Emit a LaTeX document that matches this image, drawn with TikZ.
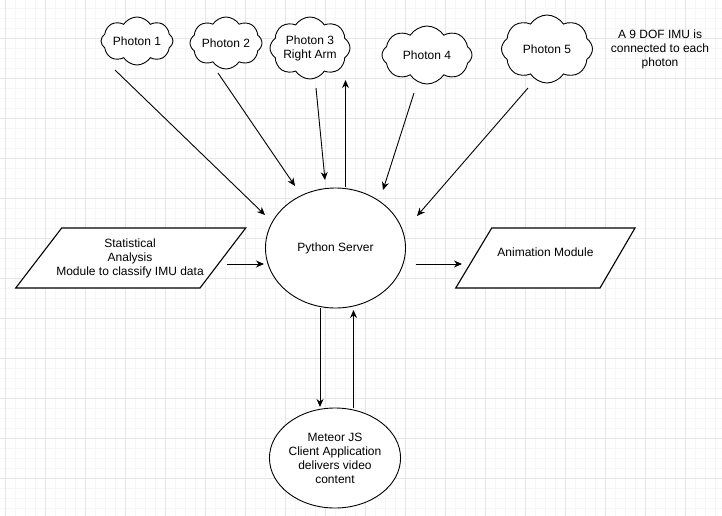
\documentclass[tikz,border=0pt]{standalone}
\usepackage{fontspec}
\setmainfont{Liberation Sans}
\usetikzlibrary{shapes.symbols,shapes.geometric,arrows.meta}
\definecolor{gridminor}{HTML}{F6F6F6}
\definecolor{gridmajor}{HTML}{E6E6E6}
\tikzset{
  txt/.style={font=\fontsize{12}{14}\selectfont, align=center, inner sep=0pt},
  photon/.style={cloud, cloud puffs=8, cloud puff arc=115, cloud ignores aspect, draw, line width=0.9pt, fill=white, inner sep=0pt, font=\fontsize{12}{14}\selectfont, align=center},
  oval/.style={ellipse, draw, line width=0.9pt, fill=white, inner sep=0pt, font=\fontsize{12}{14}\selectfont, align=center},
  arr/.style={line width=0.9pt, -{Stealth[length=8pt,width=7pt]}},
  para/.style={draw, line width=1.1pt, fill=white},
}
\begin{document}
\begin{tikzpicture}[x=1pt,y=-1pt]
\useasboundingbox (0,0) rectangle (722,516);
\fill[white] (0,0) rectangle (722,516);
% grid
\foreach \x in {5,15,...,715} \draw[gridminor, line width=0.6pt] (\x,0) -- (\x,516);
\foreach \y in {8,18,...,508} \draw[gridminor, line width=0.6pt] (0,\y) -- (722,\y);
\foreach \x in {5,45,...,685} \draw[gridmajor, line width=0.7pt] (\x,0) -- (\x,516);
\foreach \y in {38,78,...,478} \draw[gridmajor, line width=0.7pt] (0,\y) -- (722,\y);

% clouds
\node[photon, minimum width=72pt, minimum height=48pt] (p1) at (137,41) {Photon 1};
\node[photon, minimum width=72pt, minimum height=52pt] (p2) at (226,43) {Photon 2};
\node[photon, minimum width=80pt, minimum height=62pt] (p3) at (310,48) {Photon 3\\Right Arm};
\node[photon, minimum width=90pt, minimum height=58pt] (p4) at (427,55) {Photon 4};
\node[photon, minimum width=91pt, minimum height=68pt] (p5) at (547,49) {Photon 5};
\node[txt] (note) at (660,49) {A 9 DOF IMU is\\connected to each\\photon};

% ellipses
\node[oval, minimum width=140pt, minimum height=120pt] (srv) at (335.5,248) {Python Server};
\node[oval, minimum width=120pt, minimum height=100pt] (met) at (335,458) {Meteor JS\\Client Application\\delivers video\\content};

% parallelograms
\draw[para] (61.7,228) -- (245.7,228) -- (200,288) -- (15.7,288) -- cycle;
\node[txt] (stat) at (130,258) {Statistical\\Analysis\\Module to classify IMU data};
\draw[para] (491.7,228) -- (635,228) -- (600,288) -- (455.7,288) -- cycle;
\node[txt] (anim) at (545.5,252) {Animation Module};

% connector ends
\coordinate (p1o) at (115,70);   \coordinate (s1) at (265,215);
\coordinate (p2o) at (218,73);   \coordinate (s2) at (295,186);
\coordinate (p3o) at (316,88);   \coordinate (s3) at (325,180);
\coordinate (s4) at (345.5,187); \coordinate (p3i) at (345.5,80);
\coordinate (p4o) at (414,93);   \coordinate (s5) at (383,190);
\coordinate (p5o) at (528,88);   \coordinate (s6) at (417,216);
\coordinate (sto) at (227,264);  \coordinate (s7) at (264,264);
\coordinate (s8) at (415.5,264); \coordinate (ani) at (462,264);
\coordinate (s9) at (320,308);   \coordinate (mi) at (320,407);
\coordinate (mo) at (353.5,408); \coordinate (s10) at (353.5,310);

\draw[arr] (p1o) -- (s1);
\draw[arr] (p2o) -- (s2);
\draw[arr] (p3o) -- (s3);
\draw[arr] (s4) -- (p3i);
\draw[arr] (p4o) -- (s5);
\draw[arr] (p5o) -- (s6);
\draw[arr] (sto) -- (s7);
\draw[arr] (s8) -- (ani);
\draw[arr] (s9) -- (mi);
\draw[arr] (mo) -- (s10);
\end{tikzpicture}
\end{document}
